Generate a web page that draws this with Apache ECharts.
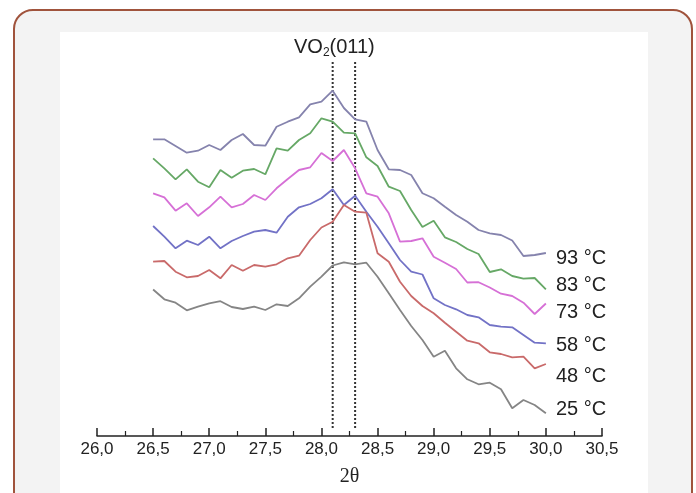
<!DOCTYPE html>
<html>
<head>
<meta charset="utf-8">
<script src="https://cdn.jsdelivr.net/npm/echarts@6/dist/echarts.min.js"></script>
<style>
  html, body { margin: 0; padding: 0; background: #ffffff; width: 696px; height: 493px; overflow: hidden; }
  #frame { position: absolute; left: 13px; top: 9px; width: 680px; height: 520px; border: 2px solid #a0533c; border-radius: 20px; background: #f3f3f3; box-sizing: border-box; }
  #panel { position: absolute; left: 60px; top: 32px; width: 588px; height: 470px; background: #ffffff; }
  #chart { position: absolute; left: 0; top: 0; width: 696px; height: 493px; }
</style>
</head>
<body>
<div id="frame"></div>
<div id="panel"></div>
<div id="chart"></div>
<script>
// 2-theta positions (degrees)
var twoTheta = [26.5,26.6,26.7,26.8,26.9,27.0,27.1,27.2,27.3,27.4,27.5,27.6,27.7,27.8,27.9,28.0,28.1,28.2,28.3,28.4,28.5,28.6,28.7,28.8,28.9,29.0,29.1,29.2,29.3,29.4,29.5,29.6,29.7,29.8,29.9,30.0];

// intensities (arbitrary units, curves offset vertically)
var i93 = [296.7,296.7,290,283.3,285.3,291,286,296,302,291,290.3,309.3,314.3,318.7,331.7,334.3,345.3,328,316.7,314.3,286,266.7,266,261,242.7,237.7,229.3,221,214.3,206,202.7,201,195.5,180,181,183];
var i83 = [277.7,267.7,256.7,266.7,254.3,248.7,266,258.3,265.3,267,261.7,287.7,285.3,296,302.7,317.7,314.3,303.3,302.7,278.7,270,249.3,245,226,209,215.3,198.7,194,187,182,164,166.7,160,157.3,158,146.7];
var i73 = [242.7,238.7,225.3,232.7,220,228.7,239.3,228.7,232,241,236,247.7,257,266,268.7,283,275,286,267.7,242.7,239.3,222.7,194.3,195,197.7,179.3,173.3,167,153.5,153.8,148.5,142.3,140,133.3,122,132.5];
var i58 = [210,199.3,187.7,195.3,191,199.3,187.7,195,200,204.3,206,203.3,219.3,228.7,232,237.7,246.8,231,240.3,224.3,209.3,192.7,176,164.3,161.5,137.7,131,126.7,121,118.7,111,109.3,108.7,101,93.3,92.7];
var i48 = [174.3,175,164.3,158.7,160,166,157.7,171,165.3,171,169.3,171.7,177.7,180.3,196,208.5,214.3,231,224.3,223.3,182.7,174.3,154.3,140,130,122.7,113.3,104.3,95.3,92.7,83.7,82,78.7,79.3,67.7,72];
var i25 = [146.5,136.7,133.3,125.7,129.3,132.7,134.8,129,127,129.3,126,131.7,130,137.7,149.3,159.3,170.5,173.7,171.7,173.3,159.3,142.7,126,110,96,79.3,85.3,67.7,56.7,51.7,53.3,46.7,27.7,36,31,22.7];

var seriesNames = ['93 °C','83 °C','73 °C','58 °C','48 °C','25 °C'];
var seriesData = [i93, i83, i73, i58, i48, i25];

// reference peak positions for VO2(011)
var peakLines = [28.1, 28.3];
var peakLineRange = [8, 374];

var xTicks = { min: 26.0, max: 30.5, step: 0.5 };

var colors = ['#8583ad', '#66a866', '#d670d6', '#7272c6', '#c96a6a', '#858585'];
var labelOffsets = [[0,5],[0,-4],[0,9],[0,2],[0,12],[0,-4]];

var chart = echarts.init(document.getElementById('chart'), null, { renderer: 'canvas' });

function pairs(arr) {
  return twoTheta.map(function (x, k) { return [x, arr[k]]; });
}

var series = seriesData.map(function (arr, k) {
  return {
    name: seriesNames[k],
    type: 'line',
    data: pairs(arr),
    symbol: 'none',
    smooth: false,
    lineStyle: { color: colors[k], width: 1.8 },
    itemStyle: { color: colors[k] },
    endLabel: {
      show: true,
      formatter: '{a}',
      distance: 10,
      offset: labelOffsets[k],
      fontSize: 20,
      color: '#222',
      fontFamily: 'Liberation Sans, Arial, sans-serif'
    },
    silent: true,
    z: 3
  };
});

peakLines.forEach(function (p) {
  series.push({
    type: 'line',
    data: [[p, peakLineRange[0]], [p, peakLineRange[1]]],
    symbol: 'none',
    lineStyle: { color: '#333', width: 2, type: [2, 2] },
    silent: true,
    z: 2
  });
});

chart.setOption({
  backgroundColor: 'transparent',
  animation: false,
  grid: { left: 97, right: 94, top: 36, bottom: 57 },
  xAxis: {
    type: 'value',
    min: xTicks.min,
    max: xTicks.max,
    interval: xTicks.step,
    name: '2θ',
    nameLocation: 'middle',
    nameGap: 31,
    nameTextStyle: { fontFamily: 'Liberation Serif, Times New Roman, serif', fontSize: 20, color: '#222' },
    axisLine: { show: true, lineStyle: { color: '#222', width: 1.5 } },
    axisTick: { show: true, inside: true, length: 8, lineStyle: { color: '#222', width: 1.5 } },
    minorTick: { show: true, splitNumber: 2, length: 5, lineStyle: { color: '#222', width: 1.2 } },
    splitLine: { show: false },
    axisLabel: {
      margin: 5,
      fontSize: 17,
      color: '#222',
      fontFamily: 'Liberation Sans, Arial, sans-serif',
      formatter: function (v) { return v.toFixed(1).replace('.', ','); }
    }
  },
  yAxis: {
    type: 'value',
    min: 0,
    max: 400,
    show: false,
    splitLine: { show: false }
  },
  graphic: [{
    type: 'text',
    left: 294,
    top: 35,
    style: {
      text: '{a|VO}{b|2}{a|(011)}',
      rich: {
        a: { fontSize: 20, fontFamily: 'Liberation Sans, Arial, sans-serif', fill: '#222', lineHeight: 24 },
        b: { fontSize: 12, fontFamily: 'Liberation Sans, Arial, sans-serif', fill: '#222', lineHeight: 24, padding: [12, 0, 0, 0] }
      }
    }
  }],
  series: series
});
</script>
</body>
</html>
